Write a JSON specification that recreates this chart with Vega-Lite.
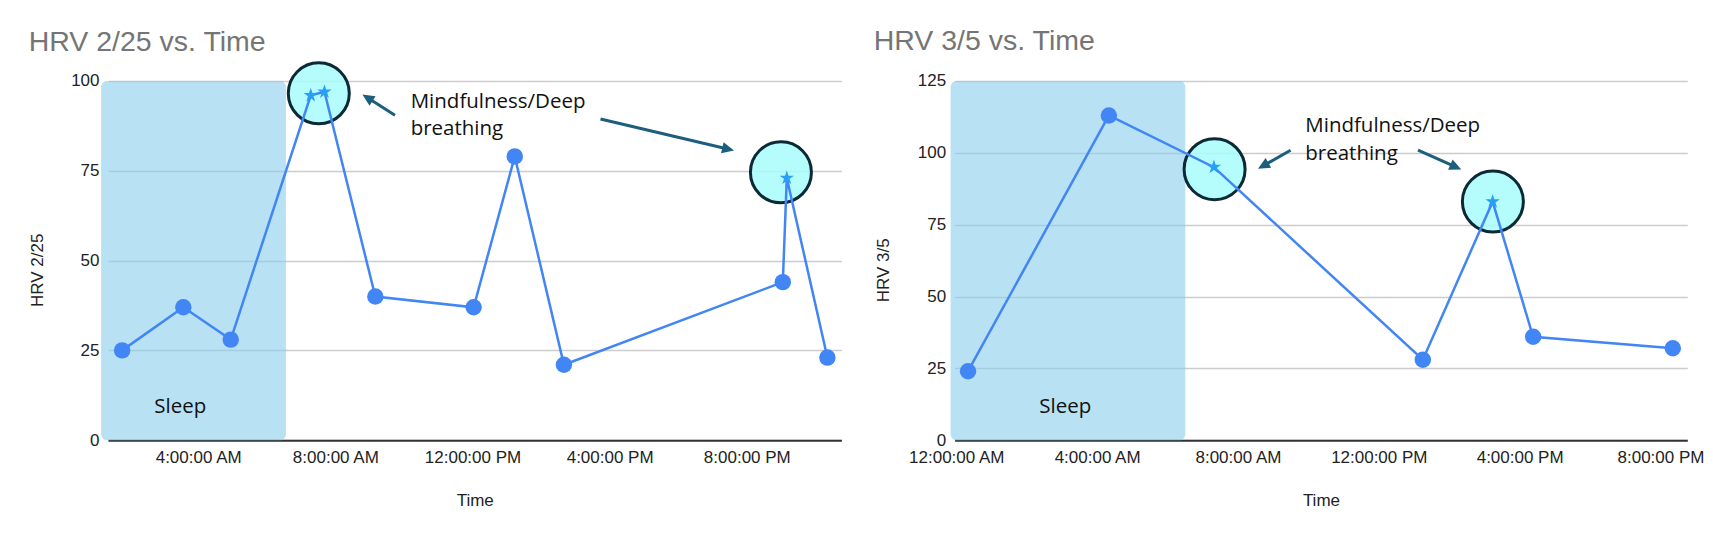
{
  "$schema": "https://vega.github.io/schema/vega-lite/v6.json",
  "background": "white",
  "padding": {"left": 28, "top": 27, "right": 5, "bottom": 5},
  "bounds": "flush",
  "spacing": 112.6,
  "config": {
    "view": {"stroke": null},
    "font": "Liberation Sans",
    "axis": {
      "labelFont": "Liberation Sans",
      "labelFontSize": 17,
      "labelColor": "#222222",
      "titleFont": "Liberation Sans",
      "titleFontSize": 17,
      "titleFontWeight": "normal",
      "titleColor": "#222222",
      "ticks": false,
      "tickSize": 0,
      "labelPadding": 9
    },
    "axisX": {
      "grid": false,
      "domain": true,
      "domainColor": "#333333",
      "domainWidth": 2,
      "labelFlush": false,
      "labelOverlap": false,
      "format": "%-I:%M:%S %p",
      "titleBaseline": "alphabetic",
      "titleY": 65.3
    },
    "axisY": {
      "grid": true,
      "gridColor": "#cccccc",
      "gridWidth": 1.5,
      "domain": false,
      "labelOverlap": false,
      "titleBaseline": "alphabetic",
      "titleAlign": "center",
      "titleX": -65.6,
      "titleY": 188.8
    },
    "title": {
      "font": "Liberation Sans",
      "fontSize": 28.5,
      "fontWeight": "normal",
      "color": "#757575",
      "anchor": "start",
      "frame": "group",
      "baseline": "alphabetic"
    }
  },
  "datasets": {
    "hrv225": [
      {"time": "2024-02-25T01:47:00", "hrv": 25, "kind": "reading"},
      {"time": "2024-02-25T03:34:00", "hrv": 37, "kind": "reading"},
      {"time": "2024-02-25T04:57:00", "hrv": 28, "kind": "reading"},
      {"time": "2024-02-25T07:17:00", "hrv": 96, "kind": "mindfulness"},
      {"time": "2024-02-25T07:41:00", "hrv": 97, "kind": "mindfulness"},
      {"time": "2024-02-25T09:10:00", "hrv": 40, "kind": "reading"},
      {"time": "2024-02-25T12:02:00", "hrv": 37, "kind": "reading"},
      {"time": "2024-02-25T13:14:00", "hrv": 79, "kind": "reading"},
      {"time": "2024-02-25T14:40:00", "hrv": 21, "kind": "reading"},
      {"time": "2024-02-25T21:03:00", "hrv": 44, "kind": "reading"},
      {"time": "2024-02-25T21:10:00", "hrv": 73, "kind": "mindfulness"},
      {"time": "2024-02-25T22:21:00", "hrv": 23, "kind": "reading"}
    ],
    "hrv35": [
      {"time": "2024-03-05T00:20:00", "hrv": 24, "kind": "reading"},
      {"time": "2024-03-05T04:20:00", "hrv": 113, "kind": "reading"},
      {"time": "2024-03-05T07:19:00", "hrv": 95, "kind": "mindfulness"},
      {"time": "2024-03-05T13:15:00", "hrv": 28, "kind": "reading"},
      {"time": "2024-03-05T15:14:00", "hrv": 83, "kind": "mindfulness"},
      {"time": "2024-03-05T16:23:00", "hrv": 36, "kind": "reading"},
      {"time": "2024-03-05T20:21:00", "hrv": 32, "kind": "reading"}
    ],
    "sleep225": [
      {"time": "2024-02-25T01:10:10", "time2": "2024-02-25T06:33:32", "hrv": 0, "hrv2": 100}
    ],
    "sleep35": [
      {"time": "2024-03-04T23:50:17", "time2": "2024-03-05T06:30:14", "hrv": 0, "hrv2": 125}
    ],
    "circles225": [
      {"time": "2024-02-25T07:31:05", "hrv": 96.58},
      {"time": "2024-02-25T20:59:42", "hrv": 74.58}
    ],
    "circles35": [
      {"time": "2024-03-05T07:20:10", "hrv": 94.31},
      {"time": "2024-03-05T15:14:24", "hrv": 83.03}
    ],
    "arrows225": [
      {"id": "a1", "time": "2024-02-25T09:44:24", "hrv": 90.48, "time2": "2024-02-25T08:58:30", "hrv2": 95.13},
      {"id": "a2", "time": "2024-02-25T15:44:00", "hrv": 89.42, "time2": "2024-02-25T19:24:50", "hrv2": 81.12}
    ],
    "heads225": [
      {"id": "a1", "time": "2024-02-25T08:58:30", "hrv": 95.13},
      {"id": "a2", "time": "2024-02-25T19:24:50", "hrv": 81.12}
    ],
    "arrows35": [
      {"id": "a1", "time": "2024-03-05T09:29:38", "hrv": 100.92, "time2": "2024-03-05T08:45:11", "hrv2": 95.73},
      {"id": "a2", "time": "2024-03-05T13:06:47", "hrv": 100.92, "time2": "2024-03-05T14:08:56", "hrv2": 95.28}
    ],
    "heads35": [
      {"id": "a1", "time": "2024-03-05T08:45:11", "hrv": 95.73},
      {"id": "a2", "time": "2024-03-05T14:08:56", "hrv": 95.28}
    ],
    "labels225": [
      {"time": "2024-02-25T10:11:53", "hrv": 92.54, "label": "Mindfulness/Deep"},
      {"time": "2024-02-25T10:11:53", "hrv": 85.1, "label": "breathing"},
      {"time": "2024-02-25T02:43:15", "hrv": 7.5, "label": "Sleep"}
    ],
    "labels35": [
      {"time": "2024-03-05T09:54:43", "hrv": 107.32, "label": "Mindfulness/Deep"},
      {"time": "2024-03-05T09:54:43", "hrv": 97.44, "label": "breathing"},
      {"time": "2024-03-05T02:21:25", "hrv": 9.4, "label": "Sleep"}
    ]
  },
  "hconcat": [
    {
      "width": 733.4,
      "height": 359.2,
      "title": {"text": "HRV 2/25 vs. Time", "dx": -79.3, "offset": 0},
      "encoding": {
        "x": {
          "field": "time", "type": "temporal", "title": "Time",
          "scale": {"domain": [
            {"year": 2024, "month": 2, "date": 25, "hours": 1, "minutes": 22, "seconds": 16},
            {"year": 2024, "month": 2, "date": 25, "hours": 22, "minutes": 45, "seconds": 32}
          ]},
          "axis": {"values": [
            {"year": 2024, "month": 2, "date": 25, "hours": 4},
            {"year": 2024, "month": 2, "date": 25, "hours": 8},
            {"year": 2024, "month": 2, "date": 25, "hours": 12},
            {"year": 2024, "month": 2, "date": 25, "hours": 16},
            {"year": 2024, "month": 2, "date": 25, "hours": 20}
          ]}
        },
        "y": {
          "field": "hrv", "type": "quantitative", "title": "HRV 2/25",
          "scale": {"domain": [0, 100], "nice": false},
          "axis": {"values": [0, 25, 50, 75, 100]}
        }
      },
      "layer": [
        {
          "data": {"name": "sleep225"},
          "mark": {"type": "rect", "fill": "#89cdeb", "opacity": 0.6, "cornerRadius": 6},
          "encoding": {"x2": {"field": "time2"}, "y2": {"field": "hrv2"}}
        },
        {
          "data": {"name": "circles225"},
          "mark": {"type": "point", "shape": "circle", "size": 3721, "filled": true, "fill": "#a8fcfd", "fillOpacity": 0.85, "stroke": "#0c2a35", "strokeWidth": 3, "strokeOpacity": 1, "opacity": 1}
        },
        {
          "data": {"name": "hrv225"},
          "mark": {"type": "line", "color": "#4285f4", "strokeWidth": 2.5}
        },
        {
          "data": {"name": "hrv225"},
          "transform": [{"filter": "datum.kind === 'reading'"}],
          "mark": {"type": "point", "shape": "circle", "filled": true, "size": 270, "color": "#4285f4", "opacity": 1}
        },
        {
          "data": {"name": "hrv225"},
          "transform": [{"filter": "datum.kind === 'mindfulness'"}],
          "mark": {"type": "point", "shape": "M0,-1L0.2245,-0.309L0.951,-0.309L0.3633,0.118L0.5878,0.809L0,0.382L-0.5878,0.809L-0.3633,0.118L-0.951,-0.309L-0.2245,-0.309Z", "filled": true, "size": 230, "color": "#27a0f5", "opacity": 1}
        },
        {
          "data": {"name": "arrows225"},
          "mark": {"type": "rule", "color": "#1b5e7d", "strokeWidth": 3},
          "encoding": {"x2": {"field": "time2"}, "y2": {"field": "hrv2"}}
        },
        {
          "data": {"name": "heads225"},
          "transform": [{"filter": "datum.id === 'a1'"}],
          "mark": {"type": "point", "shape": "M0,-1L0.75,0.6L-0.75,0.6Z", "filled": true, "size": 225, "color": "#1b5e7d", "angle": 302.4, "opacity": 1}
        },
        {
          "data": {"name": "heads225"},
          "transform": [{"filter": "datum.id === 'a2'"}],
          "mark": {"type": "point", "shape": "M0,-1L0.75,0.6L-0.75,0.6Z", "filled": true, "size": 225, "color": "#1b5e7d", "angle": 103.3, "opacity": 1}
        },
        {
          "data": {"name": "labels225"},
          "mark": {"type": "text", "align": "left", "baseline": "alphabetic", "font": "Open Sans", "fontSize": 20.5, "color": "#111111"},
          "encoding": {"text": {"field": "label"}}
        }
      ]
    },
    {
      "width": 732.7,
      "height": 359.2,
      "title": {"text": "HRV 3/5 vs. Time", "dx": -80.9, "offset": 16.1},
      "encoding": {
        "x": {
          "field": "time", "type": "temporal", "title": "Time",
          "scale": {"domain": [
            {"year": 2024, "month": 3, "date": 4, "hours": 23, "minutes": 57, "seconds": 6},
            {"year": 2024, "month": 3, "date": 5, "hours": 20, "minutes": 45, "seconds": 40}
          ]},
          "axis": {"values": [
            {"year": 2024, "month": 3, "date": 5, "hours": 0},
            {"year": 2024, "month": 3, "date": 5, "hours": 4},
            {"year": 2024, "month": 3, "date": 5, "hours": 8},
            {"year": 2024, "month": 3, "date": 5, "hours": 12},
            {"year": 2024, "month": 3, "date": 5, "hours": 16},
            {"year": 2024, "month": 3, "date": 5, "hours": 20}
          ]}
        },
        "y": {
          "field": "hrv", "type": "quantitative", "title": "HRV 3/5",
          "scale": {"domain": [0, 125], "nice": false},
          "axis": {"values": [0, 25, 50, 75, 100, 125]}
        }
      },
      "layer": [
        {
          "data": {"name": "sleep35"},
          "mark": {"type": "rect", "fill": "#89cdeb", "opacity": 0.6, "cornerRadius": 6},
          "encoding": {"x2": {"field": "time2"}, "y2": {"field": "hrv2"}}
        },
        {
          "data": {"name": "circles35"},
          "mark": {"type": "point", "shape": "circle", "size": 3721, "filled": true, "fill": "#a8fcfd", "fillOpacity": 0.85, "stroke": "#0c2a35", "strokeWidth": 3, "strokeOpacity": 1, "opacity": 1}
        },
        {
          "data": {"name": "hrv35"},
          "mark": {"type": "line", "color": "#4285f4", "strokeWidth": 2.5}
        },
        {
          "data": {"name": "hrv35"},
          "transform": [{"filter": "datum.kind === 'reading'"}],
          "mark": {"type": "point", "shape": "circle", "filled": true, "size": 270, "color": "#4285f4", "opacity": 1}
        },
        {
          "data": {"name": "hrv35"},
          "transform": [{"filter": "datum.kind === 'mindfulness'"}],
          "mark": {"type": "point", "shape": "M0,-1L0.2245,-0.309L0.951,-0.309L0.3633,0.118L0.5878,0.809L0,0.382L-0.5878,0.809L-0.3633,0.118L-0.951,-0.309L-0.2245,-0.309Z", "filled": true, "size": 230, "color": "#27a0f5", "opacity": 1}
        },
        {
          "data": {"name": "arrows35"},
          "mark": {"type": "rule", "color": "#1b5e7d", "strokeWidth": 3},
          "encoding": {"x2": {"field": "time2"}, "y2": {"field": "hrv2"}}
        },
        {
          "data": {"name": "heads35"},
          "transform": [{"filter": "datum.id === 'a1'"}],
          "mark": {"type": "point", "shape": "M0,-1L0.75,0.6L-0.75,0.6Z", "filled": true, "size": 225, "color": "#1b5e7d", "angle": 240.3, "opacity": 1}
        },
        {
          "data": {"name": "heads35"},
          "transform": [{"filter": "datum.id === 'a2'"}],
          "mark": {"type": "point", "shape": "M0,-1L0.75,0.6L-0.75,0.6Z", "filled": true, "size": 225, "color": "#1b5e7d", "angle": 114.0, "opacity": 1}
        },
        {
          "data": {"name": "labels35"},
          "mark": {"type": "text", "align": "left", "baseline": "alphabetic", "font": "Open Sans", "fontSize": 20.5, "color": "#111111"},
          "encoding": {"text": {"field": "label"}}
        }
      ]
    }
  ]
}
